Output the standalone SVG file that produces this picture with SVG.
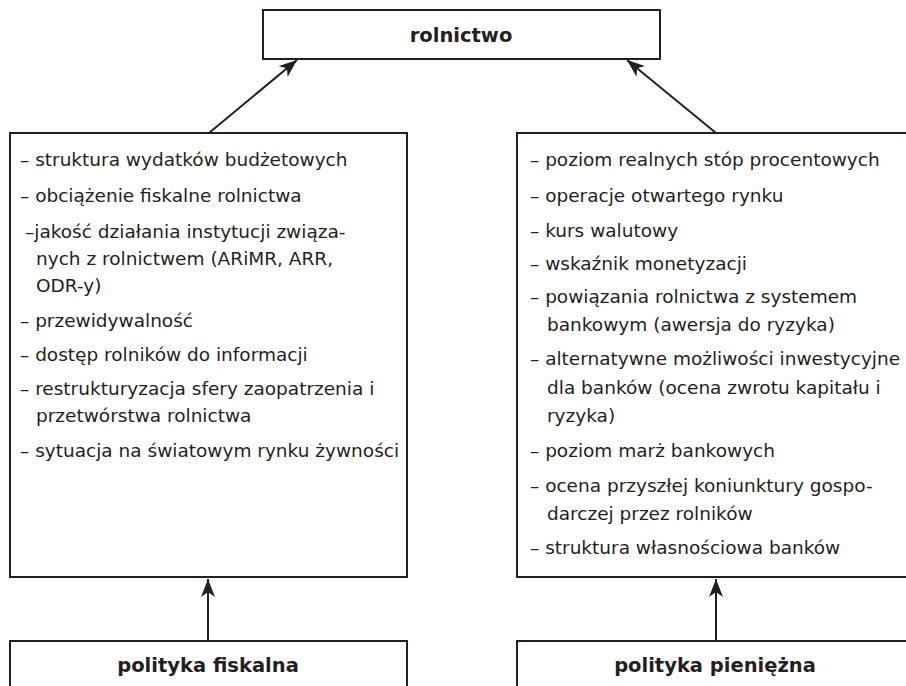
<svg xmlns="http://www.w3.org/2000/svg" width="906" height="686" viewBox="0 0 906 686">
<style>
.box{fill:#fff;stroke:#231f20;stroke-width:2}
.t{font-family:"DejaVu Sans",sans-serif;font-size:18.5px;fill:#231f20}
.h{font-family:"DejaVu Sans",sans-serif;font-size:19.5px;font-weight:bold;fill:#231f20;text-anchor:middle}
.c{stroke:#231f20;stroke-width:2;fill:none;marker-end:url(#ah)}
</style>
<defs>
<marker id="ah" markerUnits="userSpaceOnUse" markerWidth="20" markerHeight="14" viewBox="0 0 20 14" refX="18" refY="7" orient="auto">
<path d="M0,0 L18,7 L0,14 L5,7 Z" fill="#231f20"/>
</marker>
</defs>
<rect width="906" height="686" fill="#fff"/>
<g id="connectors">
<line class="c" x1="209" y1="133" x2="297" y2="60"/>
<line class="c" x1="716" y1="133" x2="627" y2="60"/>
<line class="c" x1="208" y1="641" x2="208" y2="579"/>
<line class="c" x1="716" y1="641" x2="716" y2="579"/>
</g>
<g id="rolnictwo">
<rect class="box" x="263" y="10" width="397" height="49"/>
<text class="h" x="461" y="42">rolnictwo</text>
</g>
<g id="czynniki-fiskalne">
<rect class="box" x="10" y="133" width="397" height="444"/>
<text class="t" x="20" y="166">– struktura wydatków budżetowych</text>
<text class="t" x="20" y="202">– obciążenie fiskalne rolnictwa</text>
<text class="t" x="25" y="238">–jakość działania instytucji związa-</text>
<text class="t" x="36" y="265">nych z rolnictwem (ARiMR, ARR,</text>
<text class="t" x="36" y="292">ODR-y)</text>
<text class="t" x="20" y="327">– przewidywalność</text>
<text class="t" x="20" y="361">– dostęp rolników do informacji</text>
<text class="t" x="20" y="395">– restrukturyzacja sfery zaopatrzenia i</text>
<text class="t" x="36" y="422">przetwórstwa rolnictwa</text>
<text class="t" x="20" y="457">– sytuacja na światowym rynku żywności</text>
</g>
<g id="czynniki-pieniezne">
<rect class="box" x="517" y="133" width="400" height="444"/>
<text class="t" x="530" y="166">– poziom realnych stóp procentowych</text>
<text class="t" x="530" y="202">– operacje otwartego rynku</text>
<text class="t" x="530" y="237">– kurs walutowy</text>
<text class="t" x="530" y="270">– wskaźnik monetyzacji</text>
<text class="t" x="530" y="303">– powiązania rolnictwa z systemem</text>
<text class="t" x="547" y="331">bankowym (awersja do ryzyka)</text>
<text class="t" x="530" y="365">– alternatywne możliwości inwestycyjne</text>
<text class="t" x="547" y="394">dla banków (ocena zwrotu kapitału i</text>
<text class="t" x="547" y="422">ryzyka)</text>
<text class="t" x="530" y="457">– poziom marż bankowych</text>
<text class="t" x="530" y="492">– ocena przyszłej koniunktury gospo-</text>
<text class="t" x="547" y="520">darczej przez rolników</text>
<text class="t" x="530" y="554">– struktura własnościowa banków</text>
</g>
<g id="polityka-fiskalna">
<rect class="box" x="10" y="641" width="397" height="60"/>
<text class="h" x="208" y="672">polityka fiskalna</text>
</g>
<g id="polityka-pieniezna">
<rect class="box" x="517" y="641" width="400" height="60"/>
<text class="h" x="715" y="672">polityka pieniężna</text>
</g>
</svg>
